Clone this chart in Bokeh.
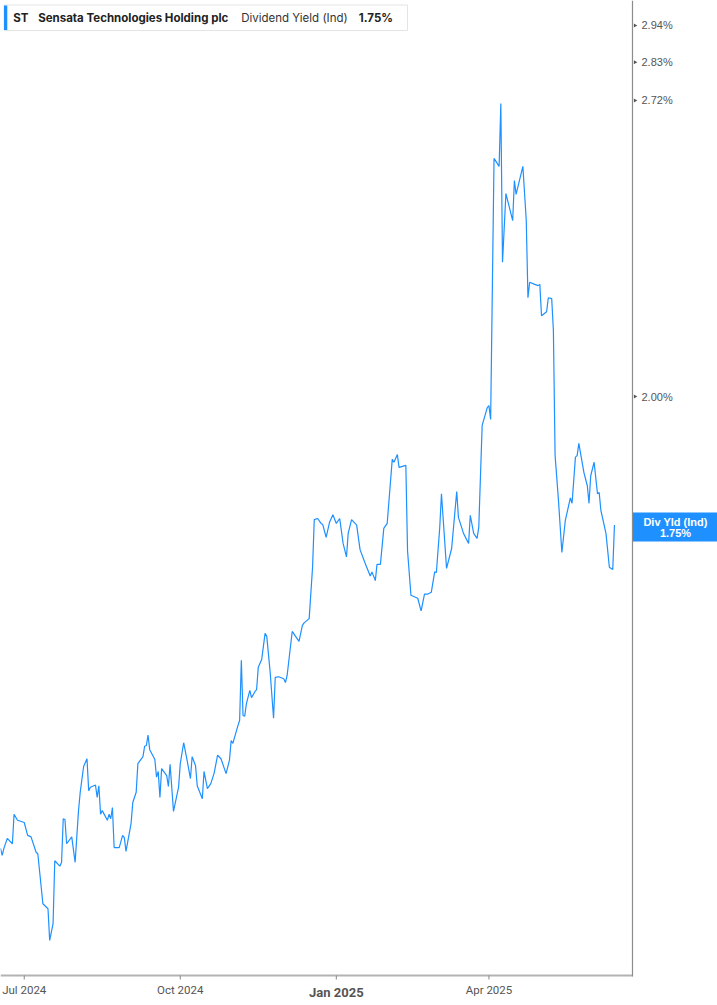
import math
import pandas as pd
from bokeh.plotting import figure
from bokeh.models import Range1d, LinearScale, ColumnDataSource
from bokeh.core.properties import value
from bokeh.embed import file_html
from bokeh.resources import INLINE

# ---------------- data ----------------
dates = [
    "2024-06-17", "2024-06-18", "2024-06-19", "2024-06-21", "2024-06-24", "2024-06-25", "2024-06-27",
    "2024-07-01", "2024-07-03", "2024-07-05", "2024-07-08", "2024-07-09", "2024-07-12", "2024-07-15",
    "2024-07-16", "2024-07-18", "2024-07-19", "2024-07-22", "2024-07-23", "2024-07-24", "2024-07-25",
    "2024-07-26", "2024-07-29", "2024-07-31", "2024-08-02", "2024-08-03", "2024-08-05", "2024-08-07",
    "2024-08-08", "2024-08-09", "2024-08-12", "2024-08-13", "2024-08-14", "2024-08-15", "2024-08-16",
    "2024-08-19", "2024-08-20", "2024-08-21", "2024-08-22", "2024-08-23", "2024-08-26", "2024-08-28",
    "2024-08-29", "2024-08-30", "2024-09-02", "2024-09-03", "2024-09-05", "2024-09-06", "2024-09-09",
    "2024-09-10", "2024-09-11", "2024-09-12", "2024-09-13", "2024-09-16", "2024-09-17", "2024-09-18",
    "2024-09-19", "2024-09-20", "2024-09-23", "2024-09-24", "2024-09-25", "2024-09-27", "2024-09-30",
    "2024-10-01", "2024-10-03", "2024-10-05", "2024-10-07", "2024-10-08", "2024-10-10", "2024-10-11",
    "2024-10-14", "2024-10-15", "2024-10-17", "2024-10-19", "2024-10-21", "2024-10-23", "2024-10-25",
    "2024-10-28", "2024-10-30", "2024-10-31", "2024-11-01", "2024-11-04", "2024-11-05", "2024-11-06",
    "2024-11-07", "2024-11-08", "2024-11-09", "2024-11-11", "2024-11-12", "2024-11-14", "2024-11-15",
    "2024-11-16", "2024-11-18", "2024-11-20", "2024-11-21", "2024-11-23", "2024-11-25", "2024-11-26",
    "2024-11-28", "2024-12-01", "2024-12-02", "2024-12-03", "2024-12-06", "2024-12-10", "2024-12-12",
    "2024-12-13", "2024-12-16", "2024-12-18", "2024-12-19", "2024-12-21", "2024-12-23", "2024-12-24",
    "2024-12-26", "2024-12-28", "2024-12-30", "2025-01-01", "2025-01-03", "2025-01-05", "2025-01-07",
    "2025-01-08", "2025-01-10", "2025-01-13", "2025-01-15", "2025-01-18", "2025-01-21", "2025-01-22",
    "2025-01-24", "2025-01-25", "2025-01-27", "2025-01-29", "2025-01-31", "2025-02-03", "2025-02-04",
    "2025-02-06", "2025-02-07", "2025-02-11", "2025-02-12", "2025-02-14", "2025-02-18", "2025-02-20",
    "2025-02-22", "2025-02-24", "2025-02-26", "2025-02-28", "2025-03-01", "2025-03-03", "2025-03-04",
    "2025-03-07", "2025-03-10", "2025-03-13", "2025-03-14", "2025-03-17", "2025-03-20", "2025-03-21",
    "2025-03-23", "2025-03-25", "2025-03-26", "2025-03-28", "2025-03-31", "2025-04-01", "2025-04-02",
    "2025-04-04", "2025-04-07", "2025-04-08", "2025-04-09", "2025-04-11", "2025-04-15", "2025-04-16",
    "2025-04-17", "2025-04-21", "2025-04-23", "2025-04-24", "2025-04-25", "2025-04-28", "2025-04-30",
    "2025-05-01", "2025-05-02", "2025-05-05", "2025-05-06", "2025-05-08", "2025-05-09", "2025-05-10",
    "2025-05-12", "2025-05-14", "2025-05-16", "2025-05-19", "2025-05-20", "2025-05-22", "2025-05-23",
    "2025-05-24", "2025-05-27", "2025-05-29", "2025-05-30", "2025-05-31", "2025-06-02", "2025-06-04",
    "2025-06-05", "2025-06-06", "2025-06-09", "2025-06-11", "2025-06-13", "2025-06-14",
]

dividend_yield = [
    1.251, 1.242, 1.251, 1.264, 1.257, 1.296, 1.288,
    1.285, 1.268, 1.266, 1.246, 1.244, 1.181, 1.175,
    1.137, 1.157, 1.235, 1.228, 1.233, 1.290, 1.289,
    1.257, 1.266, 1.233, 1.301, 1.326, 1.362, 1.373,
    1.328, 1.333, 1.336, 1.319, 1.335, 1.296, 1.301,
    1.288, 1.296, 1.290, 1.305, 1.252, 1.252, 1.268,
    1.265, 1.247, 1.284, 1.312, 1.326, 1.366, 1.376,
    1.391, 1.392, 1.407, 1.386, 1.372, 1.347, 1.355,
    1.319, 1.359, 1.349, 1.334, 1.365, 1.300, 1.333,
    1.366, 1.396, 1.371, 1.345, 1.376, 1.363, 1.335,
    1.317, 1.355, 1.331, 1.338, 1.353, 1.378, 1.373,
    1.352, 1.371, 1.399, 1.395, 1.421, 1.429, 1.521,
    1.436, 1.435, 1.454, 1.474, 1.463, 1.472, 1.475,
    1.510, 1.522, 1.564, 1.559, 1.502, 1.432, 1.494,
    1.495, 1.492, 1.486, 1.497, 1.567, 1.551, 1.577,
    1.581, 1.588, 1.675, 1.760, 1.762, 1.753, 1.751,
    1.728, 1.755, 1.769, 1.753, 1.762, 1.717, 1.693,
    1.735, 1.760, 1.750, 1.706, 1.682, 1.660, 1.667,
    1.652, 1.680, 1.680, 1.744, 1.753, 1.874, 1.868,
    1.883, 1.858, 1.862, 1.704, 1.627, 1.622, 1.601,
    1.629, 1.629, 1.632, 1.667, 1.666, 1.746, 1.808,
    1.673, 1.708, 1.812, 1.764, 1.735, 1.717, 1.768,
    1.735, 1.726, 1.746, 1.941, 1.977, 1.981, 1.953,
    2.561, 2.540, 2.711, 2.299, 2.469, 2.401, 2.503,
    2.467, 2.540, 2.401, 2.216, 2.252, 2.247, 2.244,
    2.247, 2.175, 2.184, 2.216, 2.214, 2.142, 1.881,
    1.795, 1.701, 1.758, 1.800, 1.790, 1.878, 1.881,
    1.905, 1.848, 1.823, 1.790, 1.842, 1.868, 1.808,
    1.810, 1.777, 1.735, 1.675, 1.671, 1.750,
]

x_tick_dates = ["2024-07-01", "2024-10-01", "2025-01-01", "2025-04-01"]
x_tick_labels = ["Jul 2024", "Oct 2024", "Jan 2025", "Apr 2025"]
x_tick_bold = [False, False, True, False]
y_ticks = [2.00, 2.72, 2.83, 2.94]
y_tick_labels = ["2.00%", "2.72%", "2.83%", "2.94%"]

symbol = "ST"
company = "Sensata Technologies Holding plc"
metric = "Dividend Yield (Ind)"
metric_short = "Div Yld (Ind)"
last_value = dividend_yield[-1]

# ---------------- layout (pixels) ----------------
W, H = 717, 1005
AXIS_X = 632        # right value axis position
AXIS_Y = 975        # bottom time axis position
BLUE = "#1E90FF"
GREY_TXT = "#555555"

# time scale: 1.696 px per day, first date at the left edge
origin = pd.Timestamp(dates[0])
px_per_day = 1.696
x_start = origin
x_end = origin + pd.Timedelta(days=W / px_per_day)
# log value scale: 963 px per e-fold, 2.00% at y=396
k = 963.0
ln_ref = math.log(2.0) + 396 / k
y_top = math.exp(ln_ref)
y_bottom = math.exp(ln_ref - H / k)

p = figure(
    width=W, height=H,
    x_axis_type="datetime", y_axis_type="log",
    x_axis_location=None, y_axis_location=None,
    x_range=Range1d(x_start, x_end), y_range=Range1d(y_bottom, y_top),
    output_backend="svg", toolbar_location=None,
    min_border=0,
)
p.outline_line_color = None
p.grid.visible = False
p.background_fill_color = "white"
p.border_fill_color = "white"

# pixel-space helper ranges for decorations
p.extra_x_ranges = {"px": Range1d(0, W)}
p.extra_y_ranges = {"py": Range1d(H, 0)}
p.extra_x_scales = {"px": LinearScale()}
p.extra_y_scales = {"py": LinearScale()}

# ---- main series ----
src = ColumnDataSource(dict(x=pd.to_datetime(dates), y=dividend_yield))
p.line("x", "y", source=src, line_color=BLUE, line_width=1.2)

# ---- axis lines ----
p.segment(x0=[0], y0=[AXIS_Y], x1=[AXIS_X], y1=[AXIS_Y], x_range_name="px", y_range_name="py",
          line_color="#b3b3b3", line_width=2)
p.segment(x0=[AXIS_X], y0=[0], x1=[AXIS_X], y1=[AXIS_Y + 1], x_range_name="px", y_range_name="py",
          line_color="#8c8c8c", line_width=1.2)

# ---- time axis ticks & labels ----
tick_dt = pd.to_datetime(x_tick_dates)
p.segment(x0=tick_dt, y0=[AXIS_Y] * 4, x1=tick_dt, y1=[AXIS_Y + 4] * 4, y_range_name="py",
          line_color="#888888", line_width=1)
for d, lab, bold in zip(tick_dt, x_tick_labels, x_tick_bold):
    p.text(x=[d], y=[AXIS_Y + (16.5 if bold else 14)], text=[lab], y_range_name="py",
           text_font=value("Roboto"), text_font_style="bold" if bold else "normal",
           text_font_size="13px" if bold else "11.5px", text_color=GREY_TXT,
           text_align="center", text_baseline="middle")

# ---- value axis ticks & labels ----
p.scatter(x=[AXIS_X + 2.5] * len(y_ticks), y=y_ticks, x_range_name="px", marker="triangle",
          angle=-math.pi / 2, size=4, fill_color="#555555", line_color=None)
p.text(x=[AXIS_X + 9] * len(y_ticks), y=y_ticks, text=y_tick_labels, x_range_name="px",
       text_font=value("Liberation Sans"), text_font_size="11px", text_color=GREY_TXT,
       text_align="left", text_baseline="middle")

# ---- header box ----
p.quad(left=[3.5], right=[407], top=[4.5], bottom=[30], x_range_name="px", y_range_name="py",
       fill_color="white", line_color="#e4e4e4", line_width=1)
p.quad(left=[3.5], right=[6.8], top=[5], bottom=[29.5], x_range_name="px", y_range_name="py",
       fill_color=BLUE, line_color=None)
hy = 17
header = [
    (12.7, symbol, "bold", "#222222"),
    (37.7, company, "bold", "#222222"),
    (240.7, metric, "normal", "#333333"),
    (358.3, f"{last_value:.2f}%", "bold", "#222222"),
]
for hx, txt, style, col in header:
    p.text(x=[hx], y=[hy], text=[txt], x_range_name="px", y_range_name="py",
           text_font=value("Inter"), text_font_style=style, text_font_size="11.5px",
           text_color=col, text_baseline="middle")

# ---- last value tag ----
p.quad(left=[AXIS_X + 0.5], right=[W], top=[512], bottom=[541], x_range_name="px", y_range_name="py",
       fill_color=BLUE, line_color=None)
tag_cx = (AXIS_X + W) / 2 + 0.5
p.text(x=[tag_cx, tag_cx], y=[521, 532.5], text=[metric_short, f"{last_value:.2f}%"],
       x_range_name="px", y_range_name="py",
       text_font=value("Liberation Sans"), text_font_style="bold", text_font_size="11px",
       text_color="white", text_align="center", text_baseline="middle")

open("out.html", "w").write(file_html(p, INLINE))
